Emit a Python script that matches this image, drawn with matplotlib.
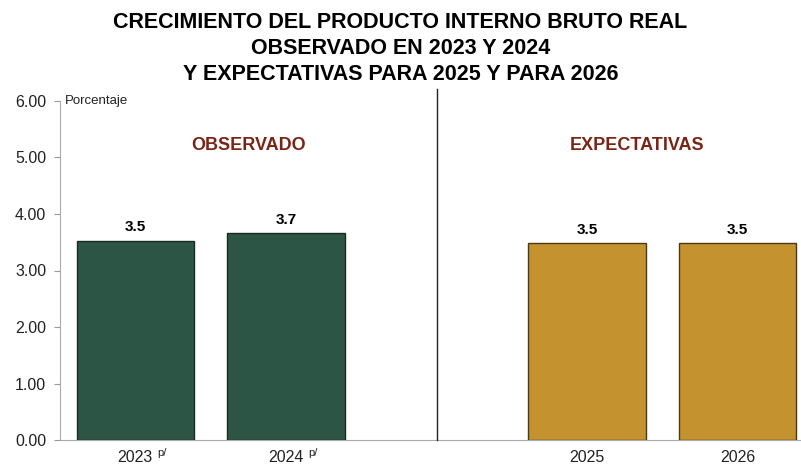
import matplotlib.pyplot as plt

# datos
anios = ['2023', '2024', '2025', '2026']
sufijos = ['p/', 'p/', '', '']
posiciones = [0, 1, 3, 4]
valores = [3.53, 3.66, 3.49, 3.49]
colores = ['#2C5545', '#2C5545', '#C4922F', '#C4922F']
bordes = ['#1B2B24', '#1B2B24', '#4A3A18', '#4A3A18']
secciones = ['OBSERVADO', 'EXPECTATIVAS']
pos_secciones = [0.75, 3.33]

plt.rcParams['font.family'] = ['Liberation Sans', 'DejaVu Sans']

fig = plt.figure(figsize=(8.01, 4.66), dpi=100)
ax = fig.add_axes([60 / 801, (466 - 440) / 466, 741 / 801, 339 / 466])

ax.bar(posiciones, valores, width=0.78, color=colores, edgecolor=bordes, linewidth=1.0, zorder=3)

for x, v in zip(posiciones, valores):
    ax.text(x, v + 0.11, f'{v:.1f}', ha='center', va='bottom', fontsize=11,
            fontweight='bold', color='black')

for x, s in zip(pos_secciones, secciones):
    ax.text(x, 5.22, s, ha='center', va='center', fontsize=13, fontweight='bold',
            color='#7A2416')

# linea divisoria
ax.plot([2, 2], [0, 6.22], color='#222222', linewidth=1.0, clip_on=False, zorder=4)

ax.set_xlim(-0.5, 4.42)
ax.set_ylim(0, 6)
ax.set_yticks([0, 1, 2, 3, 4, 5, 6])
ax.set_yticklabels([f'{t:.2f}' for t in range(7)])
ax.set_xticks(posiciones)
ax.set_xticklabels(anios)
ax.tick_params(axis='y', length=4, color='#999999', labelsize=11.5, labelcolor='#222222', pad=6)
ax.tick_params(axis='x', length=0, labelsize=11.5, labelcolor='#222222', pad=7)

# superindice p/ junto al año
for x, s in zip(posiciones, sufijos):
    if s:
        ax.annotate(s, xy=(x, 0), xytext=(16, -9.5), textcoords='offset points',
                    ha='left', va='center', fontsize=8, color='#222222', annotation_clip=False)

for lado in ['top', 'right']:
    ax.spines[lado].set_visible(False)
ax.spines['left'].set_color('#AAAAAA')
ax.spines['bottom'].set_color('#AAAAAA')

ax.text(-0.47, 6.0, 'Porcentaje', ha='left', va='center', fontsize=9.5, color='#222222')

fig.text(0.5, 0.974, 'CRECIMIENTO DEL PRODUCTO INTERNO BRUTO REAL\nOBSERVADO EN 2023 Y 2024\nY EXPECTATIVAS PARA 2025 Y PARA 2026',
         ha='center', va='top', fontsize=15.5, fontweight='bold', linespacing=1.3)

fig.savefig('out.png', dpi=100)
